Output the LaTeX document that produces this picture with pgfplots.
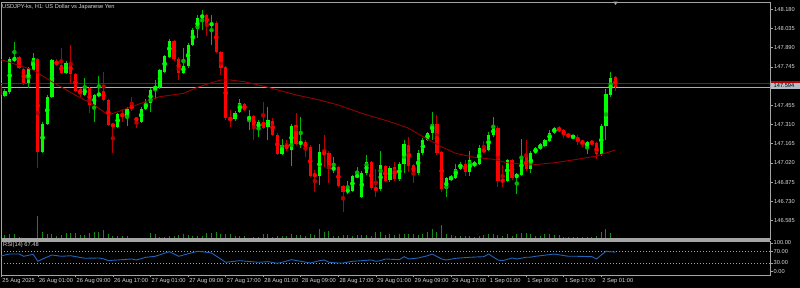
\documentclass[border=0pt]{standalone}
\usepackage{fontspec}
\setmainfont{Liberation Sans}
\usepackage{pgfplots}
\usepackage{pgfplotstable}
\pgfplotsset{compat=1.18}

\definecolor{upbody}{RGB}{0,255,0}
\definecolor{upwick}{RGB}{0,185,0}
\definecolor{dnbody}{RGB}{255,0,0}
\definecolor{dnwick}{RGB}{185,0,0}
\definecolor{maline}{RGB}{150,0,0}
\definecolor{framegrey}{RGB}{165,165,165}
\definecolor{txt}{RGB}{215,215,215}
\definecolor{volgreen}{RGB}{20,140,20}
\definecolor{rsiblue}{RGB}{30,100,185}
\definecolor{bidgrey}{RGB}{175,175,175}
\definecolor{askred}{RGB}{185,0,0}
\definecolor{pricebox}{RGB}{180,190,200}

\newcommand{\lf}{\fontsize{5.7}{6.5}\selectfont}

\pgfplotstableread{
i o h l c
0 147.608 147.621 147.520 147.532
1 147.527 147.575 147.515 147.565
2 147.555 147.822 147.545 147.802
3 147.789 147.933 147.782 147.817
4 147.817 147.827 147.729 147.739
5 147.726 147.736 147.610 147.621
6 147.626 147.746 147.583 147.734
7 147.721 147.852 147.711 147.809
8 147.802 147.812 146.983 147.104
9 147.104 147.328 147.094 147.318
10 147.318 147.530 147.308 147.520
11 147.520 147.807 147.510 147.797
12 147.789 147.802 147.754 147.764
13 147.764 147.885 147.691 147.701
14 147.701 147.787 147.691 147.777
15 147.777 147.910 147.626 147.691
16 147.691 147.701 147.555 147.565
17 147.575 147.585 147.515 147.540
18 147.537 147.658 147.527 147.583
19 147.583 147.593 147.394 147.457
20 147.457 147.542 147.331 147.532
21 147.532 147.676 147.522 147.545
22 147.565 147.709 147.485 147.495
23 147.495 147.505 147.296 147.306
24 147.311 147.321 147.092 147.298
25 147.293 147.399 147.283 147.389
26 147.386 147.432 147.331 147.376
27 147.369 147.439 147.298 147.429
28 147.449 147.520 147.414 147.434
29 147.356 147.369 147.281 147.344
30 147.331 147.444 147.321 147.432
31 147.429 147.500 147.419 147.469
32 147.474 147.585 147.406 147.575
33 147.575 147.646 147.507 147.600
34 147.590 147.731 147.580 147.721
35 147.709 147.837 147.699 147.827
36 147.822 147.953 147.812 147.943
37 147.940 147.950 147.792 147.802
38 147.809 147.819 147.646 147.701
39 147.701 147.892 147.691 147.754
40 147.751 147.925 147.741 147.915
41 147.915 148.038 147.905 148.028
42 148.028 148.137 147.960 148.112
43 148.117 148.174 148.023 148.137
44 148.137 148.147 147.978 148.061
45 148.056 148.137 147.910 148.079
46 148.081 148.091 147.850 147.860
47 147.860 147.870 147.683 147.734
48 147.741 147.751 147.346 147.356
49 147.356 147.419 147.288 147.349
50 147.351 147.412 147.341 147.401
51 147.406 147.507 147.396 147.469
52 147.464 147.474 147.409 147.419
53 147.349 147.419 147.268 147.369
54 147.374 147.384 147.197 147.281
55 147.281 147.341 147.218 147.331
56 147.331 147.482 147.278 147.288
57 147.288 147.444 147.192 147.344
58 147.338 147.364 147.225 147.235
59 147.235 147.245 147.077 147.087
60 147.087 147.205 147.077 147.155
61 147.162 147.197 147.112 147.122
62 147.117 147.313 146.996 147.303
63 147.303 147.399 147.152 147.162
64 147.162 147.364 147.130 147.182
65 147.182 147.192 147.067 147.132
66 147.142 147.152 146.913 146.923
67 146.936 146.966 146.802 146.923
68 146.923 147.162 146.853 147.099
69 147.099 147.230 146.991 147.087
70 147.097 147.107 146.870 146.971
71 146.966 147.067 146.946 146.991
72 146.986 146.996 146.835 146.845
73 146.845 146.855 146.651 146.802
74 146.800 146.883 146.790 146.820
75 146.810 146.931 146.800 146.920
76 146.915 146.991 146.905 146.928
77 146.764 146.956 146.754 146.946
78 146.941 147.079 146.931 147.024
79 147.024 147.034 146.817 146.827
80 146.832 146.978 146.764 146.815
81 146.820 147.112 146.810 147.004
82 146.999 147.009 146.875 146.885
83 146.890 146.994 146.880 146.983
84 146.991 147.029 146.888 146.898
85 146.898 147.029 146.888 147.011
86 147.009 147.192 146.946 147.160
87 147.155 147.218 146.953 146.999
88 147.004 147.014 146.865 146.946
89 146.941 147.117 146.931 147.097
90 147.092 147.208 147.082 147.197
91 147.197 147.255 147.187 147.248
92 147.248 147.404 147.192 147.318
93 147.318 147.381 147.079 147.097
94 147.102 147.112 146.800 146.820
95 146.820 146.913 146.764 146.903
96 146.895 146.928 146.885 146.915
97 146.908 147.011 146.898 146.978
98 146.978 147.026 146.968 147.016
99 147.016 147.046 146.923 146.953
100 146.953 147.112 146.923 147.041
101 146.999 147.031 146.989 147.021
102 147.011 147.155 147.001 147.130
103 147.124 147.187 147.094 147.104
104 147.117 147.255 147.107 147.230
105 147.230 147.369 147.220 147.286
106 147.286 147.296 146.840 146.885
107 146.890 147.004 146.840 146.883
108 146.885 147.051 146.875 147.041
109 147.041 147.051 146.893 146.903
110 146.910 146.946 146.785 146.936
111 146.933 147.197 146.923 147.067
112 147.067 147.192 146.961 146.978
113 146.978 147.112 146.941 147.097
114 147.097 147.140 147.087 147.130
115 147.124 147.170 147.114 147.160
116 147.150 147.203 147.140 147.192
117 147.187 147.268 147.177 147.248
118 147.248 147.293 147.238 147.286
119 147.286 147.301 147.253 147.263
120 147.268 147.278 147.205 147.230
121 147.238 147.248 147.208 147.218
122 147.213 147.233 147.203 147.223
123 147.218 147.228 147.155 147.180
124 147.182 147.192 147.142 147.172
125 147.142 147.190 147.087 147.180
126 147.180 147.190 147.157 147.167
127 147.167 147.177 147.046 147.084
128 147.084 147.311 147.074 147.301
129 147.301 147.583 147.192 147.540
130 147.530 147.709 147.520 147.658
131 147.666 147.676 147.565 147.594
}\candles

\pgfplotstableread{
i ma
0 147.802
7 147.721
11 147.633
16 147.532
20 147.457
23 147.381
26 147.419
30 147.470
34 147.520
39 147.545
42 147.591
45 147.625
47 147.646
49 147.646
52 147.633
57 147.591
63 147.533
68 147.495
72 147.457
77 147.394
83 147.331
87 147.281
90 147.218
94 147.142
97 147.092
101 147.062
105 147.047
108 147.021
113 147.004
118 147.021
122 147.042
127 147.072
131 147.117
}\matable

\pgfplotstableread{
i v
0 300
1 430
2 500
3 530
4 270
5 150
6 100
7 170
8 2330
9 700
10 570
11 530
12 370
13 430
14 670
15 630
16 600
17 430
18 430
19 600
20 700
21 700
22 930
23 500
24 370
25 370
26 370
27 370
28 170
29 70
30 100
31 170
32 630
33 500
34 270
35 270
36 330
37 370
38 430
39 500
40 430
41 370
42 330
43 370
44 600
45 670
46 700
47 570
48 500
49 500
50 330
51 330
52 330
53 150
54 270
55 270
56 500
57 570
58 270
59 300
60 300
61 370
62 500
63 430
64 430
65 300
66 500
67 430
68 1000
69 700
70 830
71 370
72 370
73 430
74 430
75 370
76 430
77 430
78 430
79 370
80 700
81 700
82 430
83 500
84 430
85 500
86 570
87 570
88 500
89 430
90 570
91 700
92 1030
93 770
94 1430
95 500
96 430
97 370
98 370
99 370
100 370
101 270
102 300
103 430
104 500
105 500
106 430
107 370
108 500
109 370
110 570
111 630
112 630
113 500
114 370
115 370
116 500
117 500
118 430
119 430
120 270
121 230
122 230
123 230
124 230
125 230
126 230
127 300
128 700
129 1030
130 630
131 100
}\volumes

\pgfplotstableread{
i r
0 53
1 57.6
2 61
4 61
5 53
7 60
8 35.3
9 43.5
11 57.6
13 53
15 55
18 46
21 47
22 44
23 38
25 40
28 43.5
29 40
31 49.5
33 53
36 69.3
38 53
42 70.7
43 69.3
45 64.7
48 31.8
51 37.5
55 31.8
57 34
59 28.3
60 31.8
62 41.1
64 35.3
66 29.3
68 37.5
69 40
70 31.8
72 29.3
73 29.3
75 35.3
77 37.5
79 40
80 35.3
81 37.5
82 43.5
85 41.1
86 51.7
87 43.5
89 47
91 55
92 61
94 43.5
95 40
97 45.9
100 49.5
103 51.7
104 61
106 40
107 37.5
109 47
110 43.5
112 49.5
113 50
114 53
115 55
118 61
121 53
123 53
126 51.7
127 43.5
128 57.6
129 70.7
130 69.3
131 67.5
}\rsitable

\begin{document}
\begin{tikzpicture}
\useasboundingbox (0pt,0pt) rectangle (800pt,288pt);
\fill[black] (0pt,0pt) rectangle (800pt,288pt);

% volume overlay
\begin{axis}[
  scale only axis, width=769pt, height=237.5pt,
  at={(1pt,48.5pt)}, anchor=south west,
  xmin=0.149, xmax=163.94, ymin=0, ymax=23750,
  hide axis]
  \addplot[ycomb, volgreen, line width=1pt, mark=none] table[x=i,y=v]{\volumes};
\end{axis}

% main price panel
\begin{axis}[
  scale only axis, width=769pt, height=237.5pt,
  at={(1pt,48.5pt)}, anchor=south west,
  xmin=0.149, xmax=163.94, ymin=146.4413, ymax=148.2351,
  axis line style={framegrey, line width=0.9pt},
  xtick=\empty,
  ytick={146.585,146.730,146.875,147.020,147.165,147.310,147.455,147.745,147.890,148.035,148.180},
  yticklabels={146.585,146.730,146.875,147.020,147.165,147.310,147.455,147.745,147.890,148.035,148.180},
  ytick pos=right, yticklabel pos=right, tick align=outside, major tick length=3pt,
  every tick/.style={framegrey, line width=0.6pt},
  yticklabel style={font=\lf, text=txt, inner sep=1pt},
  clip=true]
  \addplot[bidgrey, line width=0.7pt, mark=none] coordinates {(0.149,147.594) (163.94,147.594)};
  \addplot[askred, line width=1.3pt, mark=none] coordinates {(0.149,147.618) (163.94,147.618)};
  % wicks
  \addplot[upwick, only marks, mark=none, restrict expr to domain={\thisrow{c}-\thisrow{o}}{0:10},
    error bars/.cd, y dir=both, y explicit, error mark=none, error bar style={upwick, line width=1pt}]
    table[x=i, y expr={(\thisrow{h}+\thisrow{l})/2}, y error expr={(\thisrow{h}-\thisrow{l})/2}]{\candles};
  \addplot[dnwick, only marks, mark=none, restrict expr to domain={\thisrow{c}-\thisrow{o}}{-10:-0.0001},
    error bars/.cd, y dir=both, y explicit, error mark=none, error bar style={dnwick, line width=1pt}]
    table[x=i, y expr={(\thisrow{h}+\thisrow{l})/2}, y error expr={(\thisrow{h}-\thisrow{l})/2}]{\candles};
  % bodies
  \addplot[upbody, only marks, mark=none, restrict expr to domain={\thisrow{c}-\thisrow{o}}{0:10},
    error bars/.cd, y dir=both, y explicit, error mark=none, error bar style={upbody, line width=3.2pt}]
    table[x=i, y expr={(\thisrow{o}+\thisrow{c})/2}, y error expr={abs(\thisrow{c}-\thisrow{o})/2}]{\candles};
  \addplot[dnbody, only marks, mark=none, restrict expr to domain={\thisrow{c}-\thisrow{o}}{-10:-0.0001},
    error bars/.cd, y dir=both, y explicit, error mark=none, error bar style={dnbody, line width=3.2pt}]
    table[x=i, y expr={(\thisrow{o}+\thisrow{c})/2}, y error expr={abs(\thisrow{c}-\thisrow{o})/2}]{\candles};
  % moving average
  \addplot[maline, line width=0.9pt, mark=none] table[x=i,y=ma]{\matable};
\end{axis}

% RSI panel
\begin{axis}[
  scale only axis, width=769pt, height=34pt,
  at={(1pt,13pt)}, anchor=south west,
  xmin=0.149, xmax=163.94, ymin=-13.1, ymax=107.1,
  axis line style={framegrey, line width=0.9pt},
  xtick={0.2,8,16,24,32,40,48,56,64,72,80,88,96,104,112,120,128},
  xticklabels={25 Aug 2025,26 Aug 01:00,26 Aug 09:00,26 Aug 17:00,27 Aug 01:00,27 Aug 09:00,27 Aug 17:00,28 Aug 01:00,28 Aug 09:00,28 Aug 17:00,29 Aug 01:00,29 Aug 09:00,29 Aug 17:00,1 Sep 01:00,1 Sep 09:00,1 Sep 17:00,2 Sep 01:00},
  ytick={0,30,70,100},
  yticklabels={0.00,30.00,70.00,100.00},
  xtick pos=left, ytick pos=right, yticklabel pos=right,
  tick align=outside, major tick length=2.5pt,
  every tick/.style={framegrey, line width=0.6pt},
  xticklabel style={font=\lf, text=txt, anchor=north west, inner sep=1pt},
  yticklabel style={font=\lf, text=txt, inner sep=1pt},
  clip=true]
  \addplot[framegrey, line width=0.6pt, dash pattern=on 1pt off 2pt, mark=none] coordinates {(0.149,70) (163.94,70)};
  \addplot[framegrey, line width=0.6pt, dash pattern=on 1pt off 2pt, mark=none] coordinates {(0.149,30) (163.94,30)};
  \addplot[rsiblue, line width=0.9pt, mark=none] table[x=i,y=r]{\rsitable};
\end{axis}

% separator band between panels
\fill[framegrey] (1pt,47.2pt) rectangle (770pt,49.6pt);

% labels and price tags
\node[anchor=west, inner sep=0pt, text=txt, font=\lf] at (2pt,281pt) {USDJPY-ks, H1:\ US Dollar vs Japanese Yen};
\node[anchor=west, inner sep=0pt, text=txt, font=\lf] at (3pt,42.8pt) {RSI(14) 67.48};
\fill[askred] (771pt,204.7pt) rectangle (800pt,207.3pt);
\fill[pricebox] (771pt,199.3pt) rectangle (800pt,204.7pt);
\node[anchor=west, inner sep=0pt, text=black, font=\lf] at (773.5pt,202pt) {147.594};
\fill[framegrey] (613.3pt,286.3pt) -- (617.7pt,286.3pt) -- (615.5pt,283pt) -- cycle;
\end{tikzpicture}
\end{document}
